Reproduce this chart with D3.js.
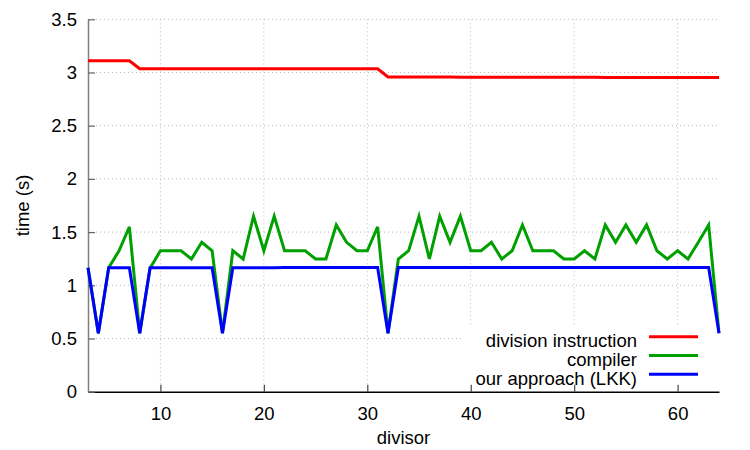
<!DOCTYPE html>
<html>
<head>
	<title></title>

<script src="https://d3js.org/d3.v7.min.js"></script>

<style type="text/css">
	body { margin: 0; background: #fff; }
	text { font-family: "Liberation Sans", Arial, sans-serif; font-size: 18.5px; fill: #000; }
	.grid line { stroke: #bbb; stroke-width: 1; stroke-dasharray: 1,3; }
	.series { fill: none; stroke-width: 3; stroke-linejoin: miter; }
</style>

</head>
<body>

<script type="text/javascript">

// divisors on the x axis
var divisors = [3, 4, 5, 6, 7, 8, 9, 10, 11, 12, 13, 14, 15, 16, 17, 18, 19, 20, 21, 22,
	23, 24, 25, 26, 27, 28, 29, 30, 31, 32, 33, 34, 35, 36, 37, 38, 39, 40, 41, 42,
	43, 44, 45, 46, 47, 48, 49, 50, 51, 52, 53, 54, 55, 56, 57, 58, 59, 60, 61, 62, 63, 64];

var divisionInstruction = [3.11, 3.11, 3.11, 3.11, 3.11, 3.035, 3.035, 3.035, 3.035, 3.035,
	3.035, 3.035, 3.035, 3.035, 3.035, 3.035, 3.035, 3.035, 3.035, 3.035,
	3.035, 3.035, 3.035, 3.035, 3.035, 3.035, 3.035, 3.035, 3.035, 2.958,
	2.958, 2.958, 2.957, 2.957, 2.957, 2.957, 2.956, 2.956, 2.956, 2.956,
	2.956, 2.956, 2.955, 2.955, 2.955, 2.955, 2.955, 2.955, 2.955, 2.955,
	2.954, 2.954, 2.954, 2.954, 2.954, 2.954, 2.953, 2.953, 2.953, 2.953, 2.952, 2.952];

var compiler = [1.165, 0.55, 1.165, 1.325, 1.55, 0.55, 1.16, 1.325, 1.325, 1.325,
	1.247, 1.404, 1.325, 0.55, 1.325, 1.247, 1.65, 1.325, 1.65, 1.325,
	1.325, 1.325, 1.247, 1.247, 1.567, 1.404, 1.325, 1.325, 1.55, 0.55,
	1.247, 1.325, 1.65, 1.247, 1.65, 1.404, 1.65, 1.325, 1.325, 1.404,
	1.247, 1.325, 1.567, 1.325, 1.325, 1.325, 1.247, 1.247, 1.325, 1.247,
	1.567, 1.404, 1.567, 1.404, 1.567, 1.325, 1.247, 1.325, 1.247, 1.404, 1.567, 0.55];

var ourApproach = [1.165, 0.55, 1.165, 1.165, 1.165, 0.55, 1.165, 1.165, 1.165, 1.165,
	1.165, 1.165, 1.165, 0.55, 1.165, 1.165, 1.165, 1.165, 1.165, 1.167,
	1.167, 1.167, 1.167, 1.167, 1.167, 1.167, 1.167, 1.167, 1.167, 0.55,
	1.167, 1.167, 1.167, 1.167, 1.167, 1.167, 1.167, 1.167, 1.167, 1.167,
	1.167, 1.167, 1.167, 1.167, 1.168, 1.168, 1.167, 1.167, 1.167, 1.167,
	1.167, 1.167, 1.167, 1.167, 1.167, 1.167, 1.167, 1.167, 1.167, 1.167, 1.167, 0.55];

var xTicks = [10, 20, 30, 40, 50, 60];
var yTicks = [0, 0.5, 1, 1.5, 2, 2.5, 3, 3.5];

var series = [
	{ name: "division instruction", color: "#ff0000", values: divisionInstruction },
	{ name: "compiler", color: "#00a000", values: compiler },
	{ name: "our approach (LKK)", color: "#0000ff", values: ourApproach }
];

var width = 750,
	height = 450;

var svg = d3.select('body').append('svg')
	.attr('width', width)
	.attr('height', height)

var x = d3.scaleLinear().domain([3, 64]).range([88, 719]);
var y = d3.scaleLinear().domain([0, 3.5]).range([391.7, 19.3]);

// dotted grid
var grid = svg.append('g').attr('class', 'grid');

grid.selectAll('.hg')
	.data(yTicks.filter(function(d){ return d > 0; }))
	.enter().append('line').attr('class', 'hg')
	.attr('x1', x(3)).attr('x2', x(64))
	.attr('y1', function(d){ return y(d); })
	.attr('y2', function(d){ return y(d); })

grid.selectAll('.vg')
	.data(xTicks)
	.enter().append('line').attr('class', 'vg')
	.attr('x1', function(d){ return x(d); })
	.attr('x2', function(d){ return x(d); })
	.attr('y1', y(3.5)).attr('y2', y(0))

// legend box hides the grid behind it
svg.append('rect')
	.attr('x', 462).attr('y', 327)
	.attr('width', x(64) - 462).attr('height', y(0) - 327)
	.attr('fill', '#fff')

// axes
var xAxis = d3.axisBottom(x)
	.tickValues(xTicks)
	.tickSize(-7)
	.tickSizeOuter(0)
	.tickPadding(15)

var yAxis = d3.axisLeft(y)
	.tickValues(yTicks)
	.tickFormat(d3.format("~g"))
	.tickSize(-7)
	.tickSizeOuter(0)
	.tickPadding(11)

var gx = svg.append('g')
	.attr('transform', 'translate(0,' + y(0) + ')')
	.call(xAxis);
gx.select('.domain').attr('stroke', '#000').attr('stroke-width', 1.5);
gx.selectAll('.tick line').attr('stroke', '#444').attr('stroke-width', 1.2);
gx.selectAll('text').attr('font-size', null).attr('font-family', null);

var gy = svg.append('g')
	.attr('transform', 'translate(' + x(3) + ',0)')
	.call(yAxis);
gy.select('.domain').attr('stroke', '#808080').attr('stroke-width', 1.5);
gy.selectAll('.tick line').attr('stroke', '#666').attr('stroke-width', 1.2);
gy.selectAll('text').attr('font-size', null).attr('font-family', null);

// lines
var line = d3.line()
	.x(function(d, i){ return x(divisors[i]); })
	.y(function(d){ return y(d); })

svg.selectAll('.series')
	.data(series)
	.enter().append('path').attr('class', 'series')
	.attr('stroke', function(d){ return d.color; })
	.attr('d', function(d){ return line(d.values); })

// legend
var legend = svg.selectAll('.legend')
	.data(series)
	.enter().append('g').attr('class', 'legend')
	.attr('transform', function(d, i){ return 'translate(0,' + (336.7 + i * 18.8) + ')'; })

legend.append('text')
	.attr('x', 637)
	.attr('y', 10.5)
	.attr('text-anchor', 'end')
	.text(function(d){ return d.name; })

legend.append('line')
	.attr('x1', 649).attr('x2', 698)
	.attr('y1', 0).attr('y2', 0)
	.attr('stroke', function(d){ return d.color; })
	.attr('stroke-width', 3)

// axis titles
svg.append('text')
	.attr('x', (x(3) + x(64)) / 2)
	.attr('y', 444)
	.attr('text-anchor', 'middle')
	.text('divisor')

svg.append('text')
	.attr('transform', 'translate(29,' + ((y(0) + y(3.5)) / 2) + ') rotate(-90)')
	.attr('text-anchor', 'middle')
	.text('time (s)')

</script>

</body>
</html>
